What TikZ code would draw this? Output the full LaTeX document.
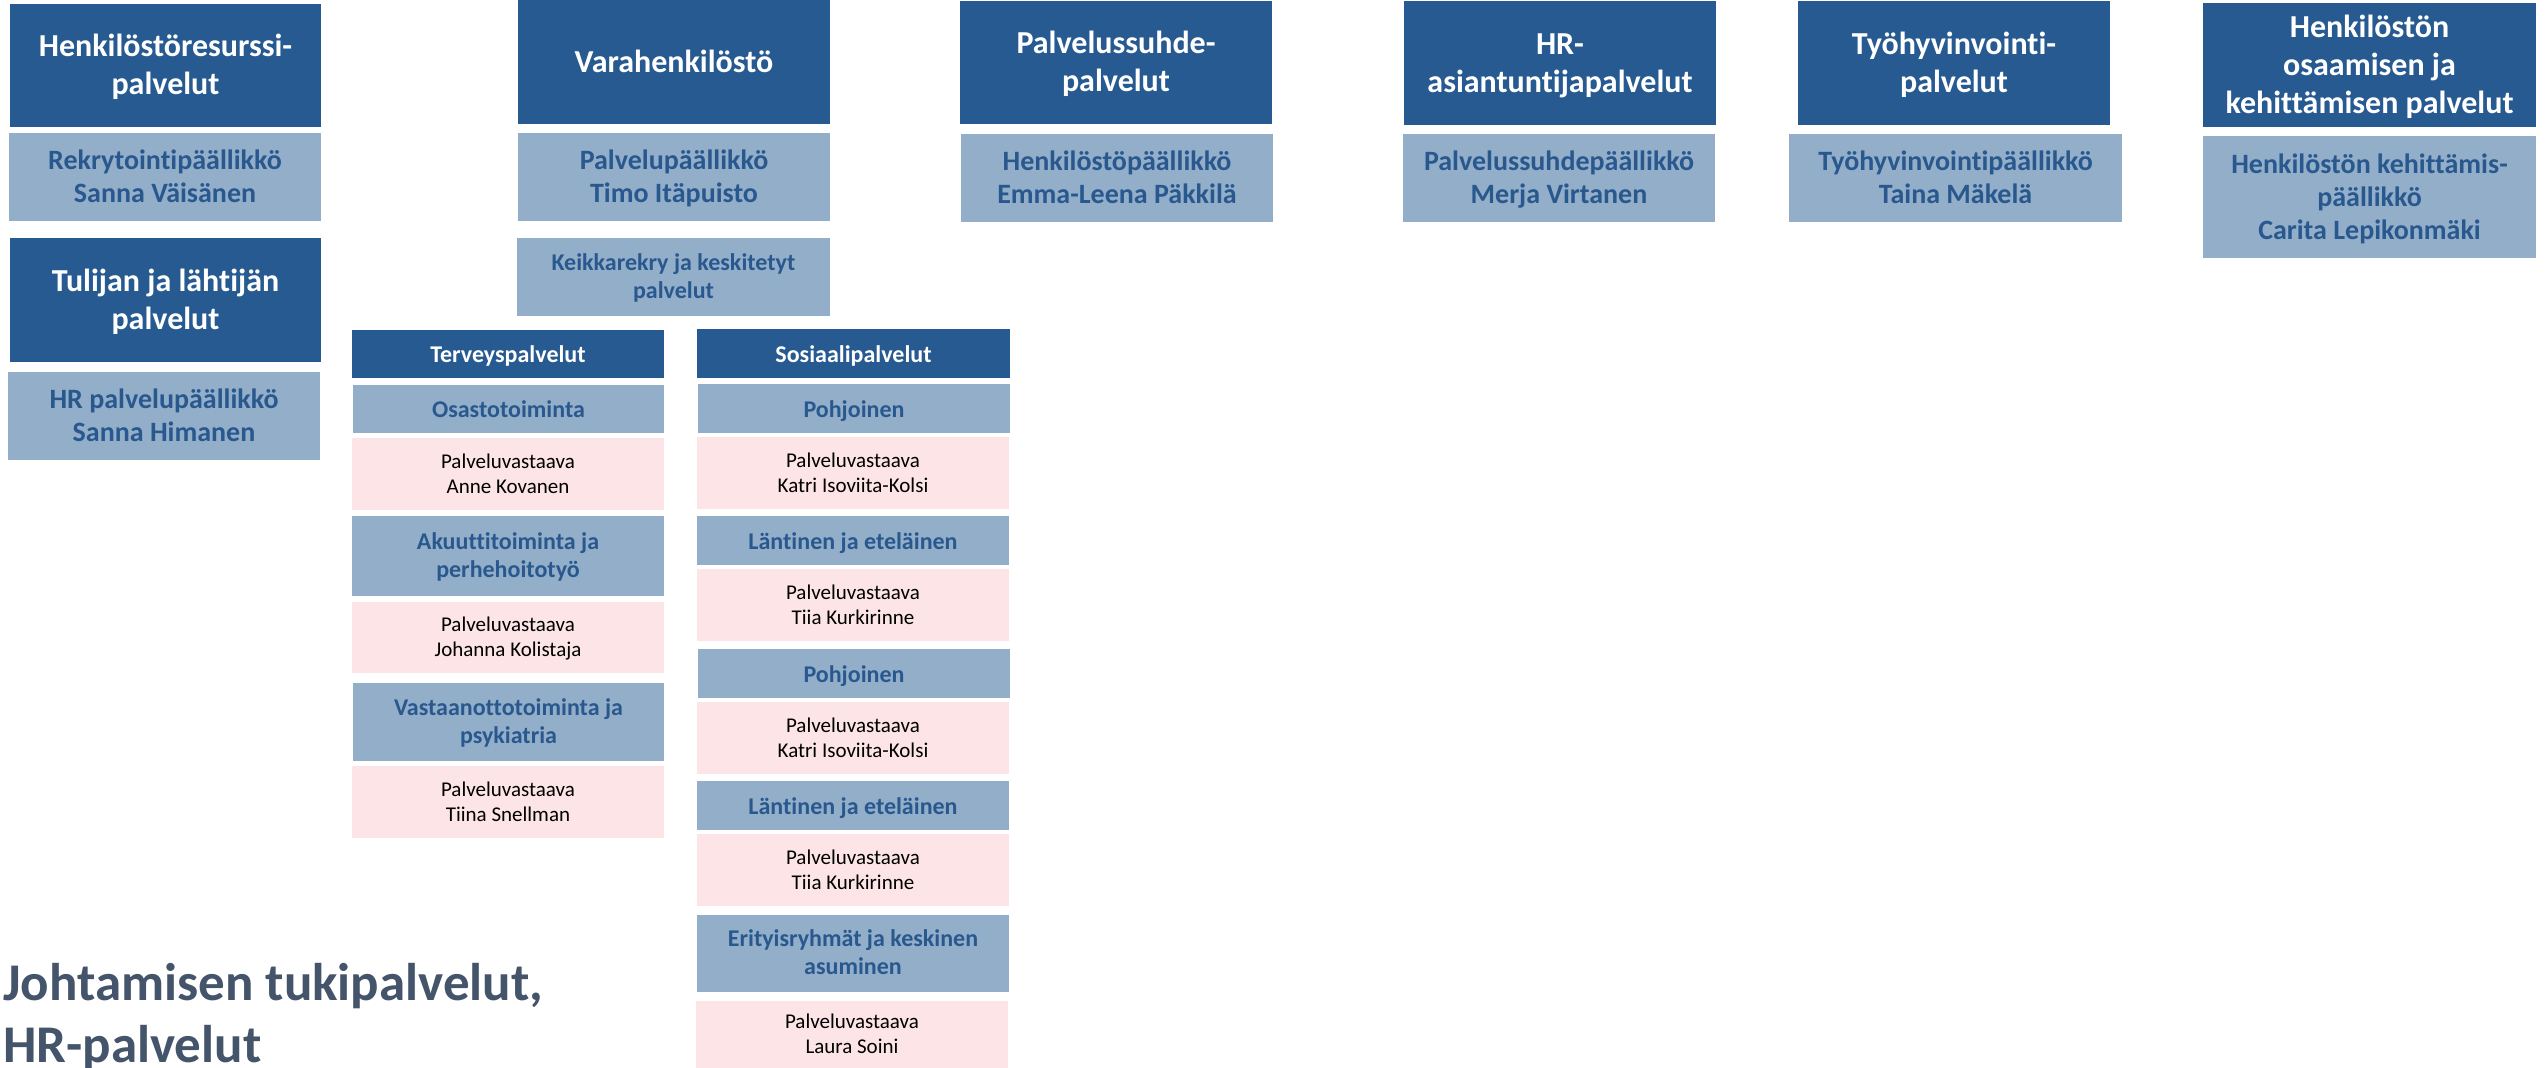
\documentclass[tikz,border=0pt]{standalone}
\usepackage{fontspec}
\setmainfont{Carlito}[Ligatures={NoCommon}]
\usetikzlibrary{fit,calc}
\definecolor{hrdark}{RGB}{38,90,145}
\definecolor{hrlight}{RGB}{147,174,201}
\definecolor{hrtext}{RGB}{40,88,142}
\definecolor{hrpink}{RGB}{253,228,230}
\definecolor{hrtitle}{RGB}{68,84,106}
% #1 box name, #2 text style, #3 downward offset of first baseline from box centre, #4 text
\newcommand{\btext}[4]{\node[#2, anchor=base, inner sep=0pt] (#1t) at ($(#1.center)+(0,#3)$) {\begin{tabular}[t]{@{}c@{}}#4\end{tabular}};}
\begin{document}
\begin{tikzpicture}[x=1pt,y=-1pt,
  box/.style={rectangle, inner sep=0pt, outer sep=0pt},
  darkbox/.style={box, fill=hrdark},
  lightbox/.style={box, fill=hrlight},
  pinkb/.style={box, fill=hrpink},
  darktxt/.style={text=white, font=\bfseries\fontsize{32}{38}\selectfont},
  lighttxt/.style={text=hrtext, font=\bfseries\fontsize{28}{33}\selectfont},
  subdarktxt/.style={text=white, font=\bfseries\fontsize{24}{28}\selectfont},
  sublighttxt/.style={text=hrtext, font=\bfseries\fontsize{24}{28}\selectfont},
  pinktxt/.style={text=black, font=\fontsize{21}{25}\selectfont},
  titletext/.style={anchor=base west, inner sep=0pt, text=hrtitle, font=\bfseries\fontsize{53}{62}\selectfont}]
\useasboundingbox[fill=white] (0,0) rectangle (2546,1068);

% Column A
\node[darkbox, fit={(10,4) (321,127)}] (a1) {};
\btext{a1}{darktxt}{-9}{Henkilöstöresurssi-\\palvelut}
\node[lightbox, fit={(9,133) (321,221)}] (a2) {};
\btext{a2}{lighttxt}{-7.5}{Rekrytointipäällikkö\\Sanna Väisänen}
\node[darkbox, fit={(10,238) (321,362)}] (a3) {};
\btext{a3}{darktxt}{-9}{Tulijan ja lähtijän\\palvelut}
\node[lightbox, fit={(8,372) (320,460)}] (a4) {};
\btext{a4}{lighttxt}{-7.5}{HR palvelupäällikkö\\Sanna Himanen}

% Column B
\node[darkbox, fit={(518,0) (830,124)}] (b1) {};
\btext{b1}{darktxt}{10}{Varahenkilöstö}
\node[lightbox, fit={(518,133) (830,221)}] (b2) {};
\btext{b2}{lighttxt}{-7.5}{Palvelupäällikkö\\Timo Itäpuisto}
\node[lightbox, fit={(517,238) (830,316)}] (b3) {};
\btext{b3}{sublighttxt}{-7}{Keikkarekry ja keskitetyt\\palvelut}

% Column C
\node[darkbox, fit={(960,1) (1272,124)}] (c1) {};
\btext{c1}{darktxt}{-9}{Palvelussuhde-\\palvelut}
\node[lightbox, fit={(961,134) (1273,222)}] (c2) {};
\btext{c2}{lighttxt}{-7.5}{Henkilöstöpäällikkö\\Emma-Leena Päkkilä}

% Column D
\node[darkbox, fit={(1404,1) (1716,125)}] (d1) {};
\btext{d1}{darktxt}{-9}{HR-\\asiantuntijapalvelut}
\node[lightbox, fit={(1403,134) (1715,222)}] (d2) {};
\btext{d2}{lighttxt}{-7.5}{Palvelussuhdepäällikkö\\Merja Virtanen}

% Column E
\node[darkbox, fit={(1798,1) (2110,125)}] (e1) {};
\btext{e1}{darktxt}{-9}{Työhyvinvointi-\\palvelut}
\node[lightbox, fit={(1789,134) (2122,222)}] (e2) {};
\btext{e2}{lighttxt}{-7.5}{Työhyvinvointipäällikkö\\Taina Mäkelä}

% Column F
\node[darkbox, fit={(2203,3) (2536,127)}] (f1) {};
\btext{f1}{darktxt}{-28}{Henkilöstön\\osaamisen ja\\kehittämisen palvelut}
\node[lightbox, fit={(2203,136) (2536,258)}] (f2) {};
\btext{f2}{lighttxt}{-24}{Henkilöstön kehittämis-\\päällikkö\\Carita Lepikonmäki}

% Terveyspalvelut
\node[darkbox, fit={(352,330) (664,378)}] (t0) {};
\btext{t0}{subdarktxt}{8.5}{Terveyspalvelut}
\node[lightbox, fit={(353,385) (664,433)}] (t1) {};
\btext{t1}{sublighttxt}{8.5}{Osastotoiminta}
\node[pinkb, fit={(352,438) (664,510)}] (t2) {};
\btext{t2}{pinktxt}{-6}{Palveluvastaava\\Anne Kovanen}
\node[lightbox, fit={(352,516) (664,596)}] (t3) {};
\btext{t3}{sublighttxt}{-7}{Akuuttitoiminta ja\\perhehoitotyö}
\node[pinkb, fit={(352,602) (664,673)}] (t4) {};
\btext{t4}{pinktxt}{-6}{Palveluvastaava\\Johanna Kolistaja}
\node[lightbox, fit={(353,683) (664,761)}] (t5) {};
\btext{t5}{sublighttxt}{-7}{Vastaanottotoiminta ja\\psykiatria}
\node[pinkb, fit={(352,766) (664,838)}] (t6) {};
\btext{t6}{pinktxt}{-6}{Palveluvastaava\\Tiina Snellman}

% Sosiaalipalvelut
\node[darkbox, fit={(697,329) (1010,378)}] (s0) {};
\btext{s0}{subdarktxt}{8.5}{Sosiaalipalvelut}
\node[lightbox, fit={(698,384) (1010,433)}] (s1) {};
\btext{s1}{sublighttxt}{8.5}{Pohjoinen}
\node[pinkb, fit={(697,437) (1009,509)}] (s2) {};
\btext{s2}{pinktxt}{-6}{Palveluvastaava\\Katri Isoviita-Kolsi}
\node[lightbox, fit={(697,516) (1009,565)}] (s3) {};
\btext{s3}{sublighttxt}{8.5}{Läntinen ja eteläinen}
\node[pinkb, fit={(697,569) (1009,641)}] (s4) {};
\btext{s4}{pinktxt}{-6}{Palveluvastaava\\Tiia Kurkirinne}
\node[lightbox, fit={(698,649) (1010,698)}] (s5) {};
\btext{s5}{sublighttxt}{8.5}{Pohjoinen}
\node[pinkb, fit={(697,702) (1009,774)}] (s6) {};
\btext{s6}{pinktxt}{-6}{Palveluvastaava\\Katri Isoviita-Kolsi}
\node[lightbox, fit={(697,781) (1009,830)}] (s7) {};
\btext{s7}{sublighttxt}{8.5}{Läntinen ja eteläinen}
\node[pinkb, fit={(697,834) (1009,906)}] (s8) {};
\btext{s8}{pinktxt}{-6}{Palveluvastaava\\Tiia Kurkirinne}
\node[lightbox, fit={(697,915) (1009,992)}] (s9) {};
\btext{s9}{sublighttxt}{-7}{Erityisryhmät ja keskinen\\asuminen}
\node[pinkb, fit={(696,1001) (1008,1068)}] (s10) {};
\btext{s10}{pinktxt}{-6}{Palveluvastaava\\Laura Soini}

% Title
\node[titletext] (title1) at (3,1000) {Johtamisen tukipalvelut,};
\node[titletext] (title2) at (3,1062) {HR-palvelut};
\end{tikzpicture}
\end{document}
